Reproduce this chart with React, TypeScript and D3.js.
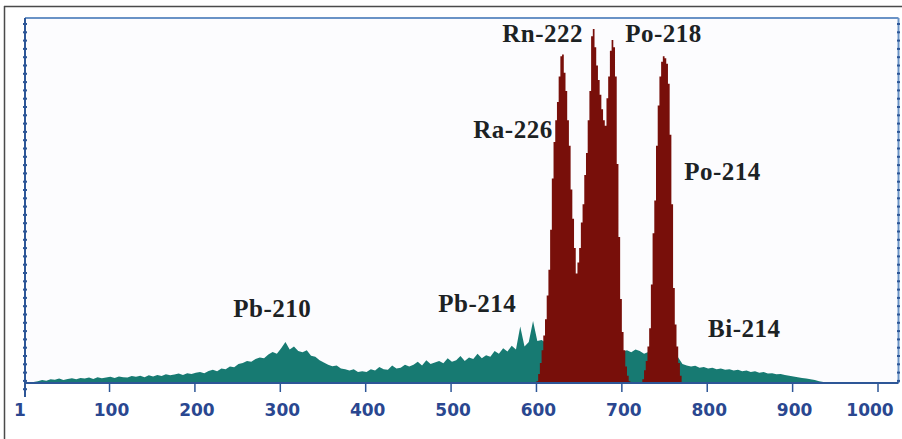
import React from 'react'
import * as d3 from 'd3'

// background spectrum, 5-channel bins starting at channel 1
const TEAL_START = 1
const TEAL_BIN = 5
const tealCounts = [
  0, 1, 3, 5, 8, 6, 10, 9, 12, 8, 11,
  13, 10, 14, 12, 15, 11, 16, 13, 15, 17,
  14, 18, 16, 15, 19, 17, 20, 16, 21, 18,
  22, 19, 24, 21, 23, 26, 22, 27, 25, 28,
  30, 27, 33, 36, 32, 40, 38, 45, 43, 52,
  55, 60, 58, 66, 70, 68, 78, 85, 80, 95,
  112, 92, 100, 88, 84, 90, 75, 72, 62, 56,
  50, 46, 48, 40, 38, 34, 38, 30, 32, 30,
  38, 34, 44, 38, 36, 48, 40, 42, 50, 45,
  50, 58, 48, 62, 52, 56, 60, 54, 68, 58,
  62, 74, 60, 70, 66, 80, 68, 76, 72, 88,
  80, 95, 86, 102, 92, 155, 100, 112, 170, 115,
  118, 110, 120, 108, 115, 105, 112, 100, 108, 96,
  100, 95, 98, 92, 96, 90, 94, 88, 92, 86,
  90, 84, 92, 88, 80, 85, 78, 82, 75, 78,
  75, 78, 70, 52, 48, 45, 47, 42, 44, 40,
  42, 38, 40, 36, 38, 34, 36, 32, 34, 30,
  32, 28, 30, 26, 27, 24, 25, 22, 20, 18,
  16, 14, 12, 10, 8, 5, 3, 1, 0, 0,
]

// radon-progeny peaks, 2-channel bins starting at channel 600
const RED_START = 600
const RED_BIN = 2
const redCounts = [
  5, 25, 55, 90, 130, 175, 240, 310, 420, 560,
  660, 720, 770, 840, 895, 900, 850, 800, 720, 650,
  530, 450, 370, 300, 330, 370, 440, 490, 570, 630,
  720, 800, 950, 970, 920, 870, 830, 790, 750, 720,
  705, 780, 840, 910, 940, 920, 840, 600, 400, 230,
  140, 90, 45, 20, 5, 0, 0, 0, 0, 0,
  0, 0, 10, 35, 60, 100, 150, 270, 410, 500,
  650, 760, 840, 880, 895, 890, 875, 820, 680, 490,
  260, 160, 100, 55, 20, 0,
]

const tickValues = [1, 100, 200, 300, 400, 500, 600, 700, 800, 900, 1000]

const peakNames = ['Rn-222', 'Po-218', 'Ra-226', 'Po-214', 'Pb-210', 'Pb-214', 'Bi-214']
const peakLabelChannel = [560, 704, 526, 773, 245, 485, 801]
const peakLabelCount = [934, 934, 671, 556, 181, 195, 126]

const W = 902
const H = 439
const LEFT = 25
const RIGHT = 898.5
const TOP = 18
const BOTTOM = 383

const TEAL = '#177a72'
const RED = '#780f0a'
const AXIS_BLUE = '#2d5697'
const FRAME_BLUE = '#6a93c6'
const LABEL_BLUE = '#2a4790'

export default function App() {
  const x = d3.scaleLinear().domain([1, 1024]).range([LEFT, RIGHT])
  const y = d3.scaleLinear().domain([0, 1000]).range([BOTTOM, TOP])

  const teal = tealCounts.map((c, i) => ({ ch: TEAL_START + i * TEAL_BIN, c }))
  const red = redCounts.map((c, i) => ({ ch: RED_START + i * RED_BIN, c }))

  const tealArea = d3.area<{ ch: number; c: number }>()
    .x(d => x(d.ch))
    .y0(BOTTOM)
    .y1(d => y(d.c))
    .curve(d3.curveLinear)

  const redArea = d3.area<{ ch: number; c: number }>()
    .x(d => x(d.ch))
    .y0(BOTTOM)
    .y1(d => y(d.c))
    .curve(d3.curveStepAfter)

  // little dashes along the side frames
  const sideTicks = d3.range(TOP + 6, BOTTOM + 12, 8.3)

  return (
    <svg width={W} height={H} style={{ position: 'absolute', left: 0, top: 0, background: '#fff' }}>
      {/* outer border */}
      <line x1={4.5} x2={4.5} y1={6} y2={H} stroke="#4a4a4a" strokeWidth={1.5} />
      <line x1={4} x2={W} y1={6.5} y2={6.5} stroke="#4a4a4a" strokeWidth={1.5} />

      <rect x={LEFT} y={TOP} width={RIGHT - LEFT} height={BOTTOM - TOP} fill="#fcfcfe" />

      <path d={tealArea(teal) || ''} fill={TEAL} />
      <path d={redArea(red) || ''} fill={RED} />

      {/* frame */}
      <line x1={LEFT} x2={RIGHT} y1={TOP} y2={TOP} stroke={FRAME_BLUE} strokeWidth={2} />
      <line x1={RIGHT} x2={RIGHT} y1={TOP} y2={BOTTOM} stroke={FRAME_BLUE} strokeWidth={2} />
      {sideTicks.filter(t => t < BOTTOM).map((t, i) => (
        <line key={'r' + i} x1={RIGHT - 1.5} x2={RIGHT + 1.5} y1={t} y2={t} stroke={AXIS_BLUE} strokeWidth={2} />
      ))}
      <line x1={LEFT} x2={LEFT} y1={TOP} y2={397} stroke={AXIS_BLUE} strokeWidth={2} />
      {sideTicks.map((t, i) => (
        <line key={'l' + i} x1={LEFT - 2} x2={LEFT + 2} y1={t} y2={t} stroke={AXIS_BLUE} strokeWidth={2} />
      ))}
      <line x1={LEFT} x2={RIGHT} y1={BOTTOM} y2={BOTTOM} stroke={AXIS_BLUE} strokeWidth={2} />

      {/* x ticks and labels */}
      {tickValues.map(v => (
        <g key={v} transform={`translate(${x(v)},0)`}>
          {v !== 1 && <line y1={BOTTOM} y2={BOTTOM + 9} stroke={AXIS_BLUE} strokeWidth={1.5} />}
          <text
            x={v === 1 ? -5 : v === 1000 ? -8 : 2}
            y={416}
            textAnchor="middle"
            fill={LABEL_BLUE}
            fontFamily="DejaVu Sans"
            fontWeight="bold"
            fontSize={17}
          >
            {v}
          </text>
        </g>
      ))}

      {/* nuclide labels */}
      {peakNames.map((name, i) => (
        <text
          key={name}
          x={x(peakLabelChannel[i])}
          y={y(peakLabelCount[i])}
          fill="#1c2224"
          fontFamily="Liberation Serif"
          fontWeight="bold"
          fontSize={25}
          letterSpacing={0.5}
        >
          {name}
        </text>
      ))}
    </svg>
  )
}
